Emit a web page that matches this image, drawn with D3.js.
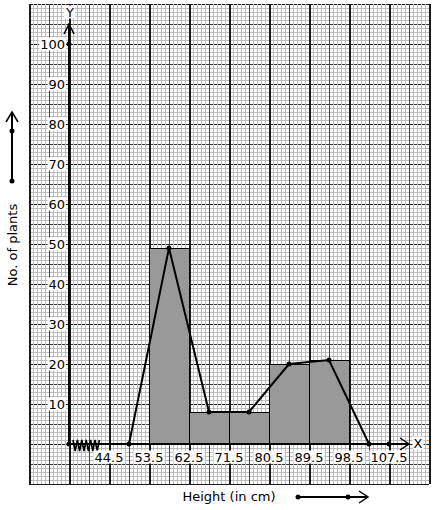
<!DOCTYPE html>
<html>
<head>
<meta charset="utf-8">
<script src="https://cdn.jsdelivr.net/npm/d3@7"></script>
<style>
  html, body { margin: 0; padding: 0; background: #fff; }
  svg { display: block; }
  text { font-family: "DejaVu Sans", sans-serif; }
</style>
</head>
<body>
<svg id="chart" width="434" height="510"></svg>
<script>
// ---- data ----
const boundaries = [44.5, 53.5, 62.5, 71.5, 80.5, 89.5, 98.5, 107.5];
const boundaryLabels = ["44.5", "53.5", "62.5", "71.5", "80.5", "89.5", "98.5", "107.5"];
const barLower = [53.5, 62.5, 71.5, 80.5, 89.5];
const barUpper = [62.5, 71.5, 80.5, 89.5, 98.5];
const barFreq = [49, 8, 8, 20, 21];
const polyMid = [49, 58, 67, 76, 85, 94, 103];
const polyFreq = [0, 49, 8, 8, 20, 21, 0];
const yTickValues = [10, 20, 30, 40, 50, 60, 70, 80, 90, 100];
const yTickLabels = ["10", "20", "30", "40", "50", "60", "70", "80", "90", "100"];
const xOriginValue = 35.5;

// ---- scales ----
const svg = d3.select("#chart");
const x = d3.scaleLinear().domain([26.5, 116.5]).range([29, 429]);
const y = d3.scaleLinear().domain([-10, 110]).range([484, 4]);

// ---- graph paper grid ----
const g = svg.append("g").attr("shape-rendering", "crispEdges");
const xMinor = d3.range(0, 101).map(i => 26.5 + i * 0.9);
const yMinor = d3.range(0, 121).map(i => -10 + i);
g.selectAll(".hminor").data(yMinor).join("line")
  .attr("y1", d => Math.round(y(d)) + 0.5).attr("y2", d => Math.round(y(d)) + 0.5)
  .attr("x1", x(26.5)).attr("x2", x(116.5))
  .attr("stroke", "#bcbcbc").attr("stroke-width", 1);
// major horizontal (dashed look)
const yMajor = d3.range(0, 25).map(i => -10 + i * 5);
g.selectAll(".hmajor").data(yMajor).join("line")
  .attr("y1", d => Math.round(y(d)) + 0.5).attr("y2", d => Math.round(y(d)) + 0.5)
  .attr("x1", x(26.5)).attr("x2", x(116.5))
  .attr("stroke", (d, i) => i % 2 === 0 ? "#1a1a1a" : "#3a3a3a")
  .attr("stroke-width", 1);
g.selectAll(".vminor").data(xMinor).join("line")
  .attr("x1", d => Math.round(x(d)) + 0.5).attr("x2", d => Math.round(x(d)) + 0.5)
  .attr("y1", y(-10)).attr("y2", y(110))
  .attr("stroke", "#bcbcbc").attr("stroke-width", 1);
// major vertical
const xMajor = d3.range(0, 21).map(i => 26.5 + i * 4.5);
g.selectAll(".vmajor").data(xMajor).join("line")
  .attr("x1", d => Math.round(x(d)) + 0.5).attr("x2", d => Math.round(x(d)) + 0.5)
  .attr("y1", y(-10)).attr("y2", y(110))
  .attr("stroke", (d, i) => i % 2 === 0 ? "#1a1a1a" : "#444")
  .attr("stroke-width", (d, i) => i % 2 === 0 ? 2 : 1);

// ---- bars ----
svg.append("g").selectAll("rect").data(barFreq).join("rect")
  .attr("x", (d, i) => x(barLower[i]) + 0.5)
  .attr("y", d => y(d) + 0.5)
  .attr("width", (d, i) => x(barUpper[i]) - x(barLower[i]))
  .attr("height", d => y(0) - y(d))
  .attr("fill", "#999999")
  .attr("stroke", "#000").attr("stroke-width", 1);

// ---- axes ----
const ax = svg.append("g");
ax.append("line").attr("x1", x(xOriginValue)).attr("x2", 409)
  .attr("y1", y(0)).attr("y2", y(0)).attr("stroke", "#000").attr("stroke-width", 2);
ax.append("path").attr("d", `M400,${y(0) - 6} L409,${y(0)} L400,${y(0) + 6}`)
  .attr("fill", "none").attr("stroke", "#000").attr("stroke-width", 1.5);
ax.append("line").attr("x1", x(xOriginValue)).attr("x2", x(xOriginValue))
  .attr("y1", y(0)).attr("y2", y(105)).attr("stroke", "#000").attr("stroke-width", 2);
ax.append("path").attr("d", `M${x(xOriginValue) - 5},${y(105) + 10} L${x(xOriginValue)},${y(105)} L${x(xOriginValue) + 5},${y(105) + 10}`)
  .attr("fill", "none").attr("stroke", "#000").attr("stroke-width", 1.5);

// axis break zigzag
const zz = d3.range(0, 13).map(i => [x(xOriginValue) + 4 + i * 2.2, y(0) + (i % 2 === 0 ? -4 : 7)]);
ax.append("path").attr("d", d3.line()(zz)).attr("fill", "none")
  .attr("stroke", "#000").attr("stroke-width", 1.6);

// labels with white background
function labelWithBg(parent, tx, ty, str, anchor) {
  const grp = parent.append("g");
  const r = grp.append("rect").attr("fill", "#fff");
  const t = grp.append("text").attr("x", tx).attr("y", ty)
    .attr("text-anchor", anchor).attr("dominant-baseline", "central")
    .attr("font-size", 13).attr("fill", "#000").text(str);
  const b = t.node().getBBox();
  r.attr("x", b.x - 1).attr("y", b.y + 1).attr("width", b.width + 2).attr("height", b.height - 2);
  return grp;
}

const lbl = svg.append("g");
boundaries.forEach((v, i) => labelWithBg(lbl, x(v), y(0) + 13, boundaryLabels[i], "middle"));
yTickValues.forEach((v, i) => labelWithBg(lbl, x(xOriginValue) - 4, y(v), yTickLabels[i], "end"));
labelWithBg(lbl, x(xOriginValue) + 1, 12, "Y", "middle");
labelWithBg(lbl, 418, y(0) - 1, "X", "middle");

// ---- frequency polygon ----
const pts = polyMid.map((m, i) => [x(m), y(polyFreq[i])]);
svg.append("path").attr("d", d3.line()(pts)).attr("fill", "none")
  .attr("stroke", "#000").attr("stroke-width", 2);
svg.append("g").selectAll("circle").data(pts).join("circle")
  .attr("cx", d => d[0]).attr("cy", d => d[1]).attr("r", 2.5).attr("fill", "#000");
// extra dots: origin, 100 on y axis, 107.5 on x axis
const extraDots = [[x(xOriginValue), y(0)], [x(xOriginValue), y(100)], [x(boundaries[7]), y(0)]];
svg.append("g").selectAll("circle").data(extraDots).join("circle")
  .attr("cx", d => d[0]).attr("cy", d => d[1]).attr("r", 2.5).attr("fill", "#000");

// ---- axis titles ----
svg.append("text").attr("x", 229).attr("y", 496).attr("text-anchor", "middle")
  .attr("dominant-baseline", "central").attr("font-size", 13).text("Height (in cm)");
svg.append("text").attr("transform", "translate(12,245) rotate(-90)")
  .attr("text-anchor", "middle").attr("dominant-baseline", "central")
  .attr("font-size", 13).text("No. of plants");

// direction arrows
const da = svg.append("g");
da.append("line").attr("x1", 298).attr("x2", 367).attr("y1", 497).attr("y2", 497)
  .attr("stroke", "#000").attr("stroke-width", 2);
da.append("path").attr("d", "M359,491 L368,497 L359,503").attr("fill", "none")
  .attr("stroke", "#000").attr("stroke-width", 1.5);
da.append("line").attr("x1", 12).attr("x2", 12).attr("y1", 181).attr("y2", 113)
  .attr("stroke", "#000").attr("stroke-width", 2);
da.append("path").attr("d", "M6,122 L12,112 L18,122").attr("fill", "none")
  .attr("stroke", "#000").attr("stroke-width", 1.5);
da.selectAll("circle").data([[298, 497], [348, 497], [12, 131], [12, 181]]).join("circle")
  .attr("cx", d => d[0]).attr("cy", d => d[1]).attr("r", 2.5).attr("fill", "#000");
</script>
</body>
</html>
